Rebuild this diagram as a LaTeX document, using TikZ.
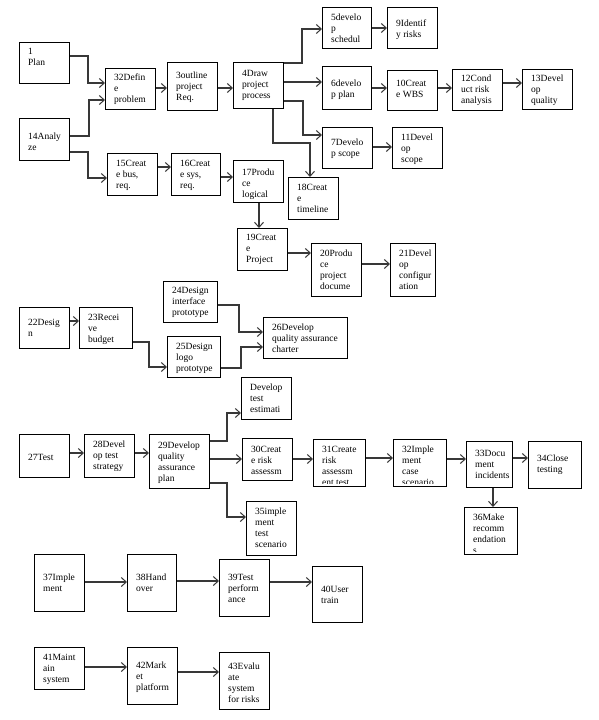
\documentclass[tikz,border=0pt]{standalone}
\usepackage{fontspec}
\setmainfont{Liberation Serif}
\usetikzlibrary{arrows.meta}
\tikzset{
  box/.style={draw=black, line width=0.8pt, rectangle, inner sep=0pt, anchor=north west},
  txt/.style={inner sep=0pt, anchor=north west, align=left, font=\fontsize{9.5}{11}\selectfont},
  arr/.style={draw=black!78, line width=1.1pt, -{Straight Barb[length=5pt,width=9pt,line width=1pt]}},
}
% name, x1, y1, x2, y2, first-line centre y, text
\newcommand\bx[7]{%
  \node[box, minimum width={(#4-#2)*1pt}, minimum height={(#5-#3)*1pt}] (#1) at (#2,#3) {};
  \begin{scope}
    \clip (#2,#3) rectangle (#4,#5-2.5);
    \node[txt] (#1-t) at (#2+9,#6-3.4) {#7};
  \end{scope}}
\begin{document}
\begin{tikzpicture}[x=1pt,y=-1pt]
\useasboundingbox[fill=white] (0,0) rectangle (598,720);
% boxes
\bx{plan}{19}{42}{69}{83}{51}{1\\Plan}
\bx{def}{105}{68}{155}{109}{77}{32Defin\\e\\problem}
\bx{out}{167}{62}{217}{110}{75}{3outline\\project\\Req.}
\bx{drw}{233}{62}{283}{108}{73}{4Draw\\project\\process}
\bx{ana}{19}{118}{69}{160}{136}{14Analy\\ze}
\bx{c15}{107}{153}{157}{195}{163}{15Creat\\e bus,\\req.}
\bx{c16}{171}{153}{220}{195}{163}{16Creat\\e sys,\\req.}
\bx{p17}{233}{160}{283}{202}{172}{17Produ\\ce\\logical}
\bx{t18}{288}{177}{338}{219}{187}{18Creat\\e\\timeline}
\bx{d5}{322}{7}{371}{48}{17}{5develo\\p\\schedul}
\bx{i9}{387}{7}{437}{48}{23}{9Identif\\y risks}
\bx{d6}{322}{66}{371}{109}{83}{6develo\\p plan}
\bx{w10}{387}{70}{437}{110}{83}{10Creat\\e WBS}
\bx{c12}{452}{69}{502}{110}{78}{12Cond\\uct risk\\analysis}
\bx{q13}{522}{69}{572}{109}{78}{13Devel\\op\\quality}
\bx{d7}{322}{127}{372}{168}{142}{7Develo\\p scope}
\bx{s11}{392}{127}{442}{168}{137}{11Devel\\op\\scope}
\bx{p19}{237}{228}{287}{270}{237}{19Creat\\e\\Project}
\bx{p20}{311}{243}{361}{296}{253}{20Produ\\ce\\project\\docume}
\bx{d21}{390}{243}{435}{296}{253}{21Devel\\op\\configur\\ation}
\bx{i24}{163}{281}{217}{322}{290}{24Design\\interface\\prototype}
\bx{d22}{19}{307}{69}{348}{322}{22Desig\\n}
\bx{r23}{79}{307}{132}{348}{317}{23Recei\\ve\\budget}
\bx{l25}{167}{336}{220}{377}{346}{25Design\\logo\\prototype}
\bx{q26}{263}{317}{347}{358}{327}{26Develop\\quality assurance\\charter}
\bx{est}{241}{377}{291}{419}{387}{Develop\\test\\estimati}
\bx{t27}{19}{434}{69}{477}{457}{27Test}
\bx{s28}{84}{434}{134}{477}{444}{28Devel\\op test\\strategy}
\bx{p29}{149}{434}{209}{488}{445}{29Develop\\quality\\assurance\\plan}
\bx{r30}{242}{438}{292}{480}{449}{30Creat\\e risk\\assessm}
\bx{i35}{246}{501}{296}{555}{511}{35imple\\ment\\test\\scenario}
\bx{r31}{313}{439}{365}{486}{449}{31Create\\risk\\assessm\\ent test}
\bx{i32}{393}{439}{446}{486}{449}{32Imple\\ment\\case\\scenario}
\bx{d33}{466}{441}{512}{487}{453}{33Docu\\ment\\incidents}
\bx{c34}{528}{441}{581}{488}{458}{34Close\\testing}
\bx{m36}{464}{507}{517}{554}{517}{36Make\\recomm\\endation\\s}
\bx{i37}{34}{554}{84}{611}{577}{37Imple\\ment}
\bx{h38}{127}{554}{176}{611}{577}{38Hand\\over}
\bx{t39}{219}{559}{269}{616}{577}{39Test\\perform\\ance}
\bx{u40}{312}{566}{362}{622}{589}{40User\\train}
\bx{m41}{34}{647}{84}{689}{657}{41Maint\\ain\\system}
\bx{m42}{127}{647}{177}{704}{665}{42Mark\\et\\platform}
\bx{e43}{219}{652}{269}{709}{666}{43Evalu\\ate\\system\\for risks}
% connectors
\draw[arr] (plan.east|-0,56) -- (88,56) -- (88,83) -- (def.west|-0,83);
\draw[arr] (ana.east|-0,136) -- (89,136) -- (89,100) -- (def.west|-0,100);
\draw[arr] (ana.east|-0,152) -- (88,152) -- (88,178) -- (c15.west|-0,178);
\draw[arr] (def.east|-0,88) -- (out.west|-0,88);
\draw[arr] (out.east|-0,88) -- (drw.west|-0,88);
\draw[arr] (drw.east|-0,63) -- (302,63) -- (302,29) -- (d5.west|-0,29);
\draw[arr] (drw.east|-0,82) -- (d6.west|-0,82);
\draw[arr] (drw.east|-0,101) -- (303,101) -- (303,135) -- (d7.west|-0,135);
\draw[arr] (drw.south-|273,0) -- (273,143) -- (310,143) -- (t18.north-|310,0);
\draw[arr] (d5.east|-0,28) -- (i9.west|-0,28);
\draw[arr] (d6.east|-0,88) -- (w10.west|-0,88);
\draw[arr] (w10.east|-0,88) -- (c12.west|-0,88);
\draw[arr] (c12.east|-0,83) -- (q13.west|-0,83);
\draw[arr] (d7.east|-0,147) -- (s11.west|-0,147);
\draw[arr] (c15.east|-0,167) -- (c16.west|-0,167);
\draw[arr] (c16.east|-0,177) -- (p17.west|-0,177);
\draw[arr] (p17.south-|259,0) -- (p19.north-|259,0);
\draw[arr] (p19.east|-0,253) -- (p20.west|-0,253);
\draw[arr] (p20.east|-0,264) -- (d21.west|-0,264);
\draw[arr] (d22.east|-0,321) -- (r23.west|-0,321);
\draw[arr] (r23.east|-0,342) -- (149,342) -- (149,367) -- (l25.west|-0,367);
\draw[arr] (i24.east|-0,305) -- (239,305) -- (239,332) -- (q26.west|-0,332);
\draw[arr] (l25.east|-0,368) -- (241,368) -- (241,347) -- (q26.west|-0,347);
\draw[arr] (t27.east|-0,453) -- (s28.west|-0,453);
\draw[arr] (s28.east|-0,453) -- (p29.west|-0,453);
\draw[arr] (p29.east|-0,441) -- (227,441) -- (227,413) -- (est.west|-0,413);
\draw[arr] (p29.east|-0,459) -- (r30.west|-0,459);
\draw[arr] (p29.east|-0,483) -- (227,483) -- (227,517) -- (i35.west|-0,517);
\draw[arr] (r30.east|-0,459) -- (r31.west|-0,459);
\draw[arr] (r31.east|-0,458) -- (i32.west|-0,458);
\draw[arr] (i32.east|-0,459) -- (d33.west|-0,459);
\draw[arr] (d33.east|-0,458) -- (c34.west|-0,458);
\draw[arr] (d33.south-|493,0) -- (m36.north-|493,0);
\draw[arr] (i37.east|-0,582) -- (h38.west|-0,582);
\draw[arr] (h38.east|-0,581) -- (t39.west|-0,581);
\draw[arr] (t39.east|-0,582) -- (u40.west|-0,582);
\draw[arr] (m41.east|-0,667) -- (m42.west|-0,667);
\draw[arr] (m42.east|-0,672) -- (e43.west|-0,672);
\end{tikzpicture}
\end{document}
